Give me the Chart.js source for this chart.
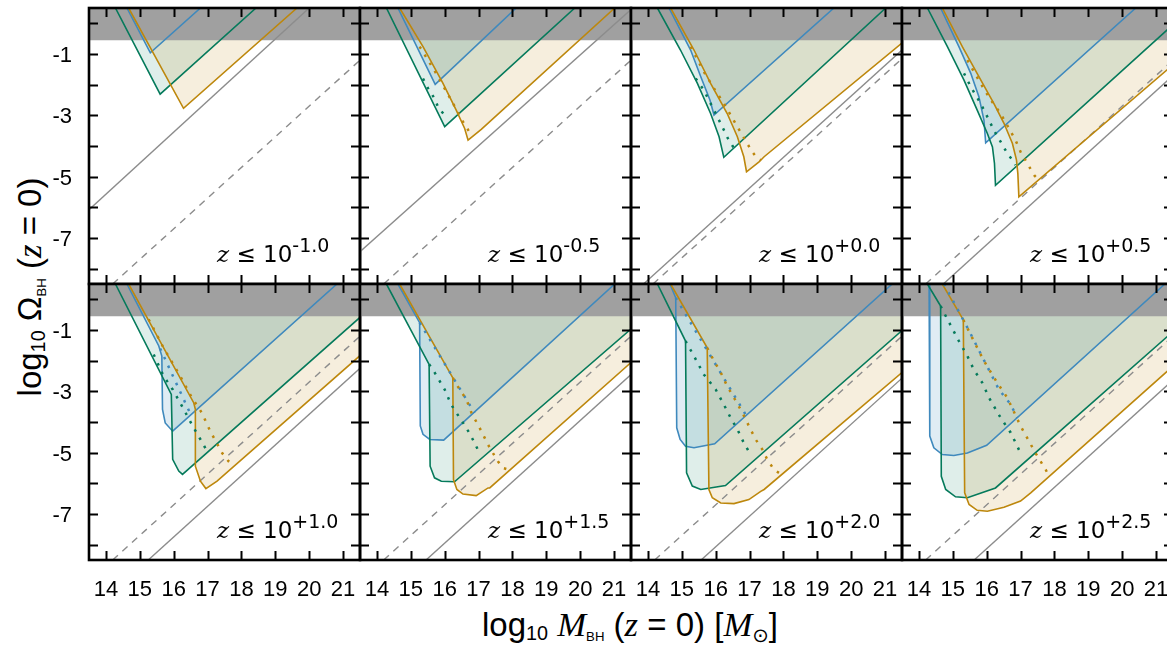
<!DOCTYPE html>
<html>
<head>
<meta charset="utf-8">
<script src="https://cdn.jsdelivr.net/npm/chart.js@4.4.1/dist/chart.umd.min.js"></script>
<style>
html, body { margin: 0; padding: 0; background: #fff; overflow: hidden; }
#fig { position: relative; width: 1167px; height: 646px; overflow: hidden; background: #fff; }
#fig canvas { position: absolute; }
.anchor { position: absolute; width: 0; height: 0; }
.ttl { position: absolute; left: 0; top: 0; font-family: "Liberation Sans", Arial, sans-serif; font-size: 33px;
       line-height: 1; white-space: nowrap; color: #000; transform: translate(-50%, -50%); }
.ttl i { font-family: "Liberation Serif", serif; font-style: italic; font-size: 1.05em; }
.ttl sub { font-size: 0.6em; vertical-align: -0.22em; line-height: 0; }
.ttl sub.bh { font-size: 0.4em; vertical-align: -0.4em; }
.ttl sub.sun { font-family: "DejaVu Sans", sans-serif; font-size: 0.6em; vertical-align: -0.3em; }
#ytitle .ttl { transform: translate(-50%, -50%) rotate(-90deg); }
</style>
</head>
<body>
<div id="fig">
  <div class="anchor" id="xtitle" style="left:630px; top:624px;">
    <div class="ttl">log<sub>10</sub> <i>M</i><sub class="bh">BH</sub> (<i>z</i> = 0) [<i>M</i><sub class="sun">⊙</sub>]</div>
  </div>
  <div class="anchor" id="ytitle" style="left:29px; top:287px;">
    <div class="ttl">log<sub>10</sub> Ω<sub class="bh">BH</sub> (<i>z</i> = 0)</div>
  </div>
</div>
<script>
// upper limit on redshift for each panel (exponent of 10)
const zExponents = ['-1.0', '-0.5', '+0.0', '+0.5', '+1.0', '+1.5', '+2.0', '+2.5'];

const xTicks = [14, 15, 16, 17, 18, 19, 20, 21];
const yTicks = [0, -1, -2, -3, -4, -5, -6, -7, -8];
const yTickLabels = [-1, -3, -5, -7];

// log10 Omega above this is excluded (grey band)
const bandFloor = -0.55;

// grey reference lines, [logM, logOmega] end points per panel
const greySolid = [
  [[13.5, -6.08], [20.0, 0.5]],
  [[13.5, -7.45], [21.5, 0.45]],
  [[13.87, -8.5], [21.5, -0.87]],
  [[14.72, -8.5], [21.5, -1.7]],
  [[15.25, -8.5], [21.5, -2.25]],
  [[15.45, -8.5], [21.5, -2.45]],
  [[15.57, -8.5], [21.5, -2.57]],
  [[15.63, -8.5], [21.5, -2.63]]
];
const greyDashed = [
  [[14.2, -8.5], [21.5, -1.2]],
  [[14.2, -8.5], [21.5, -1.2]],
  [[14.15, -8.5], [21.5, -1.15]],
  [[14.2, -8.5], [21.5, -1.2]],
  [[14.2, -8.5], [21.5, -1.2]],
  [[14.2, -8.5], [21.5, -1.2]],
  [[14.2, -8.5], [21.5, -1.2]],
  [[14.2, -8.5], [21.5, -1.2]]
];

// allowed-region boundaries per panel
const blueEdge = [
  [[14.62, 0.5], [15.31, -0.96], [16.79, 0.5]],
  [[14.62, 0.5], [15.72, -1.99], [18.11, 0.5]],
  [[14.62, 0.5], [15.26, -0.87], [15.56, -1.74], [15.83, -2.5], [15.95, -2.99], [19.49, 0.5]],
  [[14.64, 0.5], [15.18, -0.76], [15.53, -1.63], [15.77, -2.39], [15.92, -3.16], [15.97, -3.9], [20.4, 0.5]],
  [[14.62, 0.5], [15.56, -1.52], [15.65, -1.85], [15.67, -3.59], [15.75, -4.03], [15.97, -4.3], [20.82, 0.5]],
  [[14.62, 0.5], [15.26, -0.76], [15.28, -4.13], [15.36, -4.4], [15.56, -4.57], [15.97, -4.59], [21.02, 0.5]],
  [[14.65, 0.5], [14.82, 0.05], [14.85, -4.19], [14.95, -4.57], [15.11, -4.79], [15.36, -4.84], [15.97, -4.71], [21.21, 0.5]],
  [[14.3, 0.5], [14.32, -4.46], [14.44, -4.84], [14.69, -5.06], [15.03, -5.09], [15.43, -5.01], [16.0, -4.76], [21.26, 0.5]]
];
const greenEdge = [
  [[14.28, 0.5], [15.6, -2.31], [18.43, 0.5]],
  [[14.28, 0.5], [16.0, -3.37], [19.84, 0.5]],
  [[14.28, 0.5], [14.96, -0.87], [15.46, -1.96], [15.85, -2.94], [16.1, -3.7], [16.24, -4.37], [21.02, 0.5]],
  [[14.25, 0.5], [14.84, -0.76], [15.33, -1.85], [15.72, -2.83], [16.02, -3.59], [16.17, -4.03], [16.23, -4.57], [16.26, -5.28], [21.5, -0.04]],
  [[14.28, 0.5], [15.93, -3.1], [15.97, -5.22], [16.15, -5.6], [16.26, -5.71], [21.6, -0.49]],
  [[14.28, 0.5], [15.54, -2.12], [15.57, -5.44], [15.7, -5.82], [15.9, -5.93], [16.29, -5.95], [21.6, -0.87]],
  [[14.28, 0.5], [15.11, -1.36], [15.14, -5.66], [15.31, -6.09], [15.56, -6.2], [16.29, -6.07], [21.6, -0.92]],
  [[14.25, 0.5], [14.64, -0.22], [14.66, -5.77], [14.79, -6.2], [15.08, -6.44], [15.43, -6.47], [16.26, -6.15], [21.5, -1.05]]
];
const orangeEdge = [
  [[14.67, 0.5], [16.29, -2.77], [19.64, 0.5]],
  [[14.67, 0.5], [15.36, -0.76], [15.95, -1.96], [16.34, -2.83], [16.59, -3.43], [16.69, -3.81], [17.08, -3.46], [21.02, 0.5]],
  [[14.67, 0.5], [15.36, -0.87], [15.85, -1.96], [16.34, -2.94], [16.64, -3.7], [16.83, -4.35], [16.91, -4.84], [17.28, -4.52], [17.43, -4.35], [21.6, -0.55]],
  [[14.69, 0.5], [15.28, -0.76], [15.77, -1.74], [16.21, -2.61], [16.51, -3.26], [16.76, -3.92], [16.88, -4.46], [16.92, -4.9], [16.95, -5.66], [21.5, -1.35]],
  [[14.67, 0.5], [16.59, -3.37], [16.64, -3.59], [16.64, -5.44], [16.79, -5.93], [16.95, -6.17], [17.28, -5.93], [21.6, -1.74]],
  [[14.67, 0.5], [16.24, -2.56], [16.26, -5.88], [16.36, -6.2], [16.54, -6.35], [16.93, -6.4], [17.28, -6.15], [17.33, -6.15], [21.6, -1.96]],
  [[14.67, 0.5], [15.75, -1.58], [15.8, -6.2], [15.9, -6.47], [16.15, -6.64], [16.54, -6.66], [16.98, -6.53], [17.33, -6.26], [17.43, -6.2], [21.6, -2.29]],
  [[14.69, 0.5], [15.31, -0.67], [15.35, -6.31], [15.48, -6.69], [15.72, -6.88], [16.02, -6.91], [16.51, -6.78], [17.0, -6.58], [17.3, -6.31], [21.5, -2.18]]
];

// dotted continuations
const blueDots = [
  [], [], [], [],
  [[15.6, -1.6], [16.5, -3.75]],
  [[15.26, -0.76], [16.88, -3.7]],
  [[14.82, 0.05], [16.88, -3.75]],
  [[14.74, 0.5], [15.43, -0.92], [16.36, -2.94], [16.71, -3.43], [16.9, -3.86]]
];
const greenDots = [
  [],
  [[15.36, -1.8], [15.51, -2.12], [15.7, -2.45], [15.8, -2.72], [16.0, -3.0]],
  [[15.41, -1.8], [15.65, -2.18], [15.95, -2.83], [16.22, -3.43], [16.36, -3.75], [16.54, -4.07]],
  [[15.33, -1.63], [15.53, -2.07], [15.82, -2.61], [16.02, -3.05], [16.21, -3.48], [16.41, -3.86], [16.61, -4.24], [16.76, -4.46], [16.85, -4.62]],
  [[15.41, -1.8], [15.7, -2.5], [15.97, -2.94], [16.22, -3.43], [16.56, -4.13], [16.79, -4.57], [16.93, -4.84], [17.0, -5.0]],
  [[15.54, -2.12], [15.65, -2.29], [16.0, -2.94], [16.19, -3.43], [16.44, -3.86], [16.64, -4.19], [16.83, -4.57], [17.05, -5.06]],
  [[15.11, -1.36], [15.36, -1.85], [15.65, -2.45], [16.0, -2.94], [16.24, -3.43], [16.44, -3.86], [16.64, -4.24], [16.83, -4.68], [17.03, -5.06]],
  [[14.64, -0.22], [14.84, -0.65], [15.18, -1.36], [15.43, -1.85], [15.62, -2.29], [15.87, -2.72], [16.07, -3.21], [16.41, -3.86], [16.71, -4.35], [17.02, -5.06]]
];
const orangeDots = [
  [],
  [[15.26, -0.76], [15.72, -1.58], [16.19, -2.5], [16.54, -3.21], [16.79, -3.65]],
  [[15.26, -0.76], [15.65, -1.58], [15.95, -2.12], [16.24, -2.61], [16.44, -2.99], [16.64, -3.37], [16.79, -3.65], [16.93, -3.92], [17.08, -4.19], [17.23, -4.41], [17.33, -4.46]],
  [[15.43, -1.2], [15.82, -1.96], [16.12, -2.5], [16.41, -2.94], [16.66, -3.43], [16.85, -3.81], [17.0, -4.19], [17.2, -4.57], [17.4, -4.95], [17.54, -5.11]],
  [[15.26, -0.65], [15.7, -1.58], [16.19, -2.5], [16.54, -3.21], [16.83, -3.7], [17.08, -4.3], [17.43, -5.01], [17.62, -5.28], [17.75, -5.4]],
  [[16.24, -2.56], [16.44, -2.94], [16.64, -3.26], [16.79, -3.7], [17.03, -4.19], [17.33, -4.84], [17.57, -5.28], [17.72, -5.5], [17.87, -5.55]],
  [[15.75, -1.58], [15.95, -2.01], [16.15, -2.39], [16.34, -2.83], [16.54, -3.21], [16.79, -3.7], [16.98, -4.13], [17.18, -4.57], [17.38, -4.9], [17.52, -5.22], [17.72, -5.55], [17.87, -5.66]],
  [[15.31, -0.67], [15.62, -1.36], [15.92, -2.01], [16.31, -2.72], [16.61, -3.21], [17.0, -4.13], [17.44, -5.01], [17.74, -5.55], [17.84, -5.77]]
];

const X_MIN = 13.5, X_MAX = 21.5, Y_MIN = -8.5, Y_MAX = 0.5;
const LINE = { blue: '#3f89bd', green: '#057a5b', orange: '#bd870c' };
const FILL = { blue: 'rgba(63,137,189,0.16)', green: 'rgba(5,122,91,0.13)', orange: 'rgba(189,135,12,0.14)' };
const GREY = '#8c8c8c';

const PANEL_LEFT = [89, 360, 631, 902];
const PANEL_TOP = [8, 284];
const PANEL_W = 271, PANEL_H = 276, PAD = 46;

const toPoints = arr => arr.map(([x, y]) => ({ x, y }));
// close a region along the top of the plot, outside the visible area
const closedRegion = arr => toPoints(arr).concat([{ x: X_MAX + 0.3, y: Y_MAX + 0.3 }, { x: X_MIN - 0.3, y: Y_MAX + 0.3 }]);

function buildDatasets(i) {
  const ds = [];
  const regions = [['orange', orangeEdge], ['green', greenEdge], ['blue', blueEdge]];
  regions.forEach(([c, edges]) => {
    ds.push({ data: closedRegion(edges[i]), fill: 'shape', backgroundColor: FILL[c], borderColor: 'transparent', borderWidth: 0, order: 40 });
  });
  ds.push({
    data: [{ x: X_MIN - 0.3, y: bandFloor }, { x: X_MAX + 0.3, y: bandFloor }, { x: X_MAX + 0.3, y: Y_MAX + 0.3 }, { x: X_MIN - 0.3, y: Y_MAX + 0.3 }],
    fill: 'shape', backgroundColor: '#a0a0a0', borderColor: 'transparent', borderWidth: 0, order: 30
  });
  ds.push({ data: toPoints(greySolid[i]), borderColor: GREY, borderWidth: 1.4, order: 20 });
  ds.push({ data: toPoints(greyDashed[i]), borderColor: GREY, borderWidth: 1.4, borderDash: [7, 6], order: 20 });
  regions.forEach(([c, edges]) => {
    ds.push({ data: toPoints(edges[i]), borderColor: LINE[c], borderWidth: 1.6, order: 10 });
  });
  [['orange', orangeDots], ['green', greenDots], ['blue', blueDots]].forEach(([c, dots]) => {
    if (dots[i].length) {
      ds.push({ data: toPoints(dots[i]), borderColor: LINE[c], borderWidth: 2.5, borderDash: [2.5, 7], order: 5 });
    }
  });
  return ds.map(d => Object.assign({
    showLine: true, pointRadius: 0, pointHoverRadius: 0, tension: 0, fill: false, backgroundColor: 'transparent'
  }, d));
}

// frame, inward ticks, tick labels and the redshift label of a panel
const framePlugin = {
  id: 'frame',
  afterDraw(chart, args, opts) {
    const { ctx, chartArea: a, scales: { x, y } } = chart;
    ctx.save();
    ctx.strokeStyle = '#000';
    ctx.lineWidth = 2;
    ctx.beginPath();
    xTicks.forEach(v => {
      const px = Math.round(x.getPixelForValue(v)) + 0.5;
      ctx.moveTo(px, a.top); ctx.lineTo(px, a.top + 9);
      ctx.moveTo(px, a.bottom); ctx.lineTo(px, a.bottom - 9);
    });
    yTicks.forEach(v => {
      const py = Math.round(y.getPixelForValue(v)) + 0.5;
      ctx.moveTo(a.left, py); ctx.lineTo(a.left + 9, py);
      ctx.moveTo(a.right, py); ctx.lineTo(a.right - 9, py);
    });
    ctx.stroke();
    ctx.lineWidth = 2.6;
    ctx.strokeRect(a.left, a.top, a.right - a.left, a.bottom - a.top);

    ctx.fillStyle = '#000';
    ctx.font = '22px "Liberation Sans", Arial, sans-serif';
    ctx.textBaseline = 'alphabetic';
    if (opts.row === 1) {
      ctx.textAlign = 'center';
      xTicks.forEach(v => ctx.fillText(String(v), x.getPixelForValue(v), a.bottom + 36));
    }
    if (opts.col === 0) {
      ctx.textAlign = 'right';
      yTickLabels.forEach(v => ctx.fillText(String(v), a.left - 17, y.getPixelForValue(v) + 8));
    }

    // "z <= 10^exp" label
    ctx.textAlign = 'left';
    let lx = x.getPixelForValue(17.28);
    const ly = y.getPixelForValue(-7.79);
    ctx.font = 'italic 23px "DejaVu Serif", serif';
    ctx.fillText('z', lx, ly);
    lx += ctx.measureText('z').width;
    ctx.font = '23px "DejaVu Sans", sans-serif';
    const mid = ' \u2264 10';
    ctx.fillText(mid, lx, ly);
    lx += ctx.measureText(mid).width;
    ctx.font = '19px "DejaVu Sans", sans-serif';
    ctx.fillText(opts.exp, lx, ly - 10);
    ctx.restore();
  }
};

const fig = document.getElementById('fig');
zExponents.forEach((exp, i) => {
  const row = i < 4 ? 0 : 1, col = i % 4;
  const canvas = document.createElement('canvas');
  canvas.width = PANEL_W + 2 * PAD;
  canvas.height = PANEL_H + 2 * PAD;
  canvas.style.left = (PANEL_LEFT[col] - PAD) + 'px';
  canvas.style.top = (PANEL_TOP[row] - PAD) + 'px';
  canvas.style.width = canvas.width + 'px';
  canvas.style.height = canvas.height + 'px';
  fig.appendChild(canvas);

  new Chart(canvas.getContext('2d'), {
    type: 'scatter',
    data: { datasets: buildDatasets(i) },
    options: {
      responsive: false,
      animation: false,
      devicePixelRatio: 1,
      events: [],
      layout: { padding: PAD },
      scales: {
        x: { type: 'linear', min: X_MIN, max: X_MAX, display: false },
        y: { type: 'linear', min: Y_MIN, max: Y_MAX, display: false }
      },
      plugins: {
        legend: { display: false },
        tooltip: { enabled: false },
        frame: { row, col, exp }
      }
    },
    plugins: [framePlugin]
  });
});
</script>
</body>
</html>
